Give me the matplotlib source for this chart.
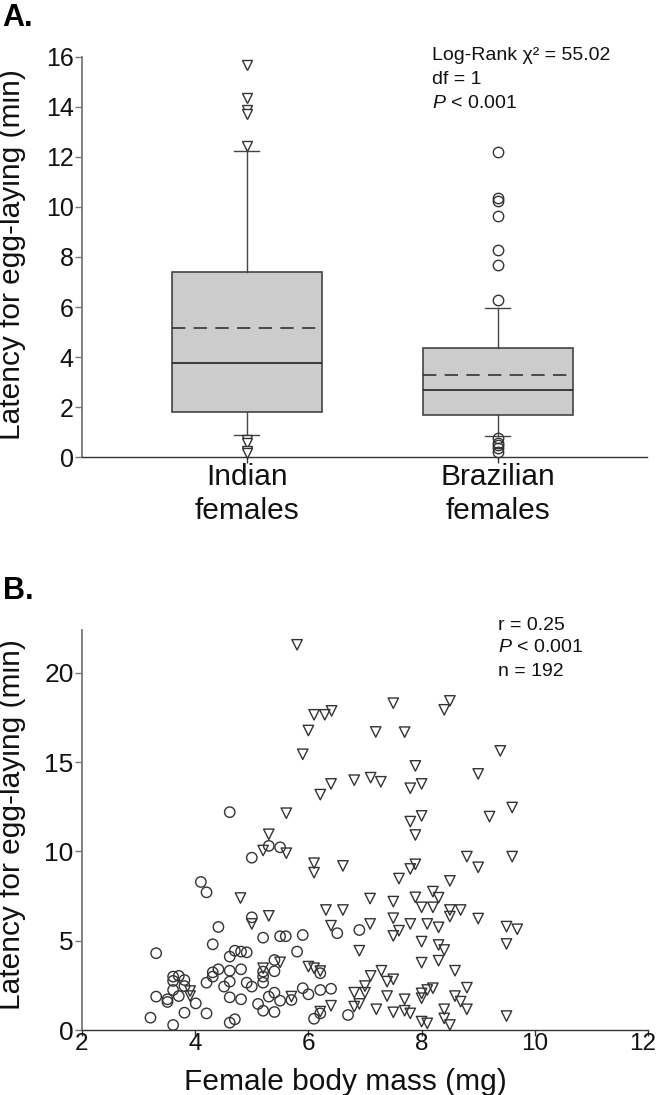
import matplotlib
matplotlib.use('Agg')
import matplotlib.pyplot as plt
import matplotlib.transforms as mtransforms

plt.rcParams['font.family'] = ['Liberation Sans', 'DejaVu Sans']
plt.rcParams['mathtext.fontset'] = 'custom'
plt.rcParams['mathtext.rm'] = 'Liberation Sans'
plt.rcParams['mathtext.it'] = 'Liberation Sans:italic'

# panel A - box summaries (min)
groups = ['Indian\nfemales', 'Brazilian\nfemales']
ind_box = dict(med=3.76, q1=1.79, q3=7.41, whislo=0.91, whishi=12.24, mean=5.16)
bra_box = dict(med=2.68, q1=1.69, q3=4.36, whislo=0.87, whishi=5.98, mean=3.29)
ind_out = [15.65, 14.35, 13.87, 13.73, 12.42, 0.70, 0.58, 0.25, 0.18]
bra_out = [12.2, 10.36, 10.22, 9.63, 8.29, 7.68, 6.29, 0.76, 0.58, 0.49, 0.36, 0.22]

# panel B - body mass (mg) vs latency (min)
ind_mass = [5.80, 6.10, 6.29, 6.41, 6.00, 7.19, 5.90, 6.40, 6.21, 6.81, 7.10, 7.28,
            5.61, 5.30, 7.50, 8.50, 8.40, 7.70, 9.39, 7.89, 9.00, 8.00, 7.80, 9.60,
            9.20, 8.00, 7.80, 7.89, 5.20, 5.61, 6.10, 6.10, 6.61, 4.80, 7.09, 6.31,
            6.61, 5.00, 5.30, 6.40, 7.09, 6.90, 5.50, 6.00, 6.10, 6.21, 5.20, 3.91,
            3.91, 5.70, 6.40, 6.21, 6.81, 7.00, 7.00, 7.10, 6.90, 6.81, 7.20, 8.80,
            9.60, 9.00, 7.89, 7.80, 7.60, 8.50, 8.20, 8.30, 7.89, 7.50, 8.00, 8.20,
            8.50, 8.69, 8.50, 9.00, 7.50, 7.80, 8.10, 8.30, 7.60, 7.50, 9.50, 9.69,
            9.50, 8.00, 8.30, 8.40, 8.00, 8.30, 8.59, 7.29, 7.39, 7.50, 7.70, 8.00,
            8.10, 8.20, 8.00, 8.80, 8.59, 8.69, 8.80, 7.39, 7.50, 7.70, 7.80, 8.40,
            8.40, 8.50, 8.00, 8.10, 9.50]
ind_lat = [21.57, 17.65, 17.65, 17.87, 16.77, 16.69, 15.44, 13.78, 13.18, 13.99, 14.13, 13.90,
           12.14, 10.96, 18.30, 18.43, 17.93, 16.68, 15.63, 14.79, 14.34, 13.78, 13.54, 12.46,
           11.95, 11.99, 11.67, 10.92, 10.05, 9.90, 9.34, 8.81, 9.19, 7.39, 7.36, 6.72,
           6.72, 5.94, 6.39, 5.84, 5.94, 4.44, 3.79, 3.55, 3.46, 3.30, 3.46, 2.18,
           1.90, 1.87, 1.36, 1.03, 2.09, 2.46, 2.09, 3.03, 1.46, 1.31, 1.16, 9.71,
           9.71, 9.11, 9.28, 9.02, 8.48, 8.35, 7.75, 7.41, 7.43, 7.19, 6.87, 6.87,
           6.72, 6.72, 6.35, 6.24, 6.26, 5.94, 5.94, 5.75, 5.56, 5.27, 5.79, 5.64,
           4.82, 4.95, 4.76, 4.48, 3.77, 3.88, 3.32, 3.32, 2.71, 2.84, 1.72, 2.05,
           2.24, 2.34, 1.78, 2.37, 1.90, 1.59, 1.16, 1.90, 0.99, 1.08, 0.93, 1.16,
           0.65, 0.28, 0.47, 0.37, 0.78]
bra_mass = [4.61, 5.30, 5.50, 5.00, 4.10, 4.20, 5.00, 6.51, 6.90, 4.41, 4.31, 5.20,
            5.50, 5.60, 5.90, 3.31, 4.61, 4.70, 4.81, 4.91, 5.80, 5.40, 6.21, 5.20,
            5.20, 5.20, 5.40, 4.81, 4.61, 4.41, 4.31, 4.31, 4.20, 4.61, 4.51, 4.91,
            5.00, 3.61, 3.71, 3.61, 3.81, 3.81, 3.61, 3.71, 3.31, 3.51, 3.51, 4.01,
            4.61, 4.81, 5.11, 5.30, 5.40, 5.50, 5.70, 5.90, 6.00, 6.21, 6.40, 6.21,
            6.10, 5.20, 5.40, 4.20, 3.81, 3.21, 3.61, 4.61, 4.70, 6.70]
bra_lat = [12.20, 10.31, 10.23, 9.65, 8.29, 7.71, 6.31, 5.42, 5.60, 5.77, 4.80, 5.17,
           5.25, 5.25, 5.32, 4.30, 4.11, 4.44, 4.39, 4.35, 4.39, 3.92, 3.18, 3.27,
           2.99, 2.65, 3.29, 3.40, 3.32, 3.40, 3.23, 2.99, 2.65, 2.71, 2.43, 2.65,
           2.43, 2.99, 3.03, 2.75, 2.80, 2.46, 2.24, 1.90, 1.87, 1.72, 1.57, 1.49,
           1.83, 1.72, 1.46, 1.87, 2.09, 1.64, 1.68, 2.34, 2.00, 2.24, 2.31, 0.93,
           0.63, 1.08, 1.01, 0.93, 0.97, 0.69, 0.28, 0.41, 0.60, 0.84]

W, H = 659, 1095
fig = plt.figure(figsize=(W / 100, H / 100), dpi=100)
axA = fig.add_axes([82 / W, 1 - 457.3 / H, 565 / W, 400.6 / H])
axB = fig.add_axes([82 / W, 1 - 1030 / H, 566 / W, 400 / H])

edge = '#333333'
common = dict(widths=0.6, patch_artist=True, showmeans=True, meanline=True,
              capwidths=0.1,
              boxprops=dict(facecolor='#cccccc', edgecolor='#444444', linewidth=1.2),
              medianprops=dict(color='#222222', linewidth=1.2),
              meanprops=dict(color='#333333', linewidth=1.2, linestyle=(0, (8, 5))),
              whiskerprops=dict(color='#444444', linewidth=1),
              capprops=dict(color='#444444', linewidth=1))

axA.bxp([dict(ind_box, fliers=ind_out)], positions=[1],
        flierprops=dict(marker='v', markerfacecolor='white', markeredgecolor=edge,
                        markersize=7.5, markeredgewidth=1), **common)
axA.bxp([dict(bra_box, fliers=bra_out)], positions=[2],
        flierprops=dict(marker='o', markerfacecolor='none', markeredgecolor=edge,
                        markersize=7.5, markeredgewidth=1), **common)
for ln in axA.lines:
    ln.set_clip_on(False)

axA.set_xlim(0.343, 2.594)
axA.set_ylim(0, 16)
axA.set_yticks(range(0, 17, 2))
axA.set_xticks([1, 2])
axA.set_xticklabels(groups, linespacing=1.3)

axB.scatter(ind_mass, ind_lat, marker='v', s=56, facecolors='none',
            edgecolors=edge, linewidths=1, clip_on=False)
axB.scatter(bra_mass, bra_lat, marker='o', s=56, facecolors='none',
            edgecolors=edge, linewidths=1, clip_on=False)
axB.set_xlim(2, 12)
axB.set_ylim(0, 22.4)
axB.set_xticks(range(2, 13, 2))
axB.set_yticks(range(0, 21, 5))

for ax in (axA, axB):
    for s in ('top', 'right'):
        ax.spines[s].set_visible(False)
    ax.spines['left'].set_color('#777777')
    ax.spines['left'].set_linewidth(1.3)
    ax.spines['bottom'].set_color('#333333')
    ax.spines['bottom'].set_linewidth(1)
    ax.tick_params(axis='y', direction='out', length=5, width=1, color='#777777',
                   pad=1, labelcolor='#111111')
    ax.tick_params(axis='x', direction='out', length=4, width=1, color='#333333',
                   labelcolor='#111111')

axA.tick_params(axis='y', labelsize=18)
axA.tick_params(axis='x', labelsize=21.5, pad=0)
axB.tick_params(axis='y', labelsize=19)
axB.tick_params(axis='x', labelsize=17.5, pad=-2)

# keep the last x tick label inside the figure edge
last = axB.get_xticklabels()[-1]
last.set_transform(last.get_transform() +
                   mtransforms.ScaledTranslation(-5 / 100, 0, fig.dpi_scale_trans))

fig.text(12 / W, 1 - 255 / H, 'Latency for egg-laying (min)', rotation=90,
         ha='center', va='center', fontsize=21.5, color='#111111')
fig.text(12 / W, 1 - 825 / H, 'Latency for egg-laying (min)', rotation=90,
         ha='center', va='center', fontsize=21.5, color='#111111')
fig.text(345 / W, 1 - 1089.5 / H, 'Female body mass (mg)', ha='center',
         va='baseline', fontsize=21.5, color='#111111')

fig.text(2 / W, 1 - 18 / H, 'A.', fontsize=22, fontweight='bold', va='center')
fig.text(3 / W, 1 - 591 / H, 'B.', fontsize=22, fontweight='bold', va='center')

statsA = ['Log-Rank χ² = 55.02', 'df = 1', '$P$ < 0.001']
for i, t in enumerate(statsA):
    fig.text(432 / W, 1 - (55 + 24 * i) / H, t, fontsize=14, va='center', color='#111111')
statsB = ['r = 0.25', '$P$ < 0.001', 'n = 192']
for i, t in enumerate(statsB):
    fig.text(498 / W, 1 - (625 + 23 * i) / H, t, fontsize=14, va='center', color='#111111')

fig.savefig('out.png', dpi=100)
